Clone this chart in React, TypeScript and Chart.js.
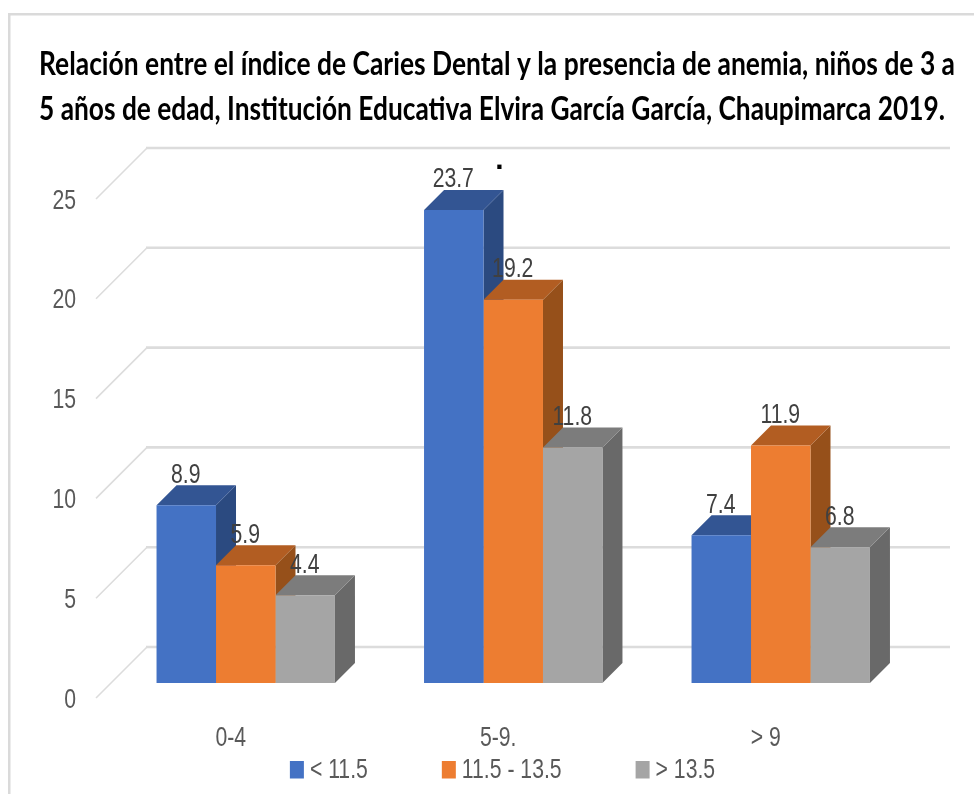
import React, { useEffect, useRef } from "react";
import { Chart, registerables } from "chart.js";

Chart.register(...registerables);

const categories = ["0-4", "5-9.", "> 9"];
const seriesNames = ["< 11.5", "11.5 - 13.5", "> 13.5"];
const lowHb = [8.9, 23.7, 7.4];
const midHb = [5.9, 19.2, 11.9];
const highHb = [4.4, 11.8, 6.8];
const yTicks = [0, 5, 10, 15, 20, 25];
const titleLines = [
  "Relación entre el índice de Caries Dental y la presencia de anemia, niños de 3 a",
  "5 años de edad, Institución Educativa Elvira García García, Chaupimarca 2019.",
];
const frontColors = ["#4472C4", "#ED7D31", "#A5A5A5"];
const topColors = ["#335593", "#B25D22", "#7C7C7C"];
const sideColors = ["#2B4A80", "#96501A", "#696969"];

const SANS = '"Liberation Sans", sans-serif';
const TEXT = "#595959";
const GRID = "#DCDCDC";
const BAR_DEPTH = 20;
const WALL_DX = 51;
const AXIS_DROP = 15;
const SQUEEZE = 0.785;

function squeezed(ctx: any, text: string, x: number, y: number, align: "left" | "right" | "center") {
  ctx.save();
  ctx.translate(x, y);
  ctx.scale(SQUEEZE, 1);
  ctx.textAlign = align;
  ctx.textBaseline = "alphabetic";
  ctx.fillText(text, 0, 0);
  ctx.restore();
}

const scene = {
  id: "scene",
  beforeDatasetsDraw(chart: any) {
    const { ctx } = chart;
    const y = chart.scales.y;
    ctx.save();
    // frame
    ctx.fillStyle = "#DADADA";
    ctx.fillRect(8, 13, 966, 2.5);
    ctx.fillRect(8, 13, 2.5, 781);
    // walls
    ctx.strokeStyle = GRID;
    for (const v of yTicks) {
      const py = y.getPixelForValue(v) + AXIS_DROP;
      ctx.lineWidth = 1.6;
      ctx.beginPath();
      ctx.moveTo(96, py);
      ctx.lineTo(96 + WALL_DX, py - WALL_DX);
      ctx.stroke();
      ctx.lineWidth = 2.6;
      ctx.beginPath();
      ctx.moveTo(96 + WALL_DX - 1, py - WALL_DX);
      ctx.lineTo(950, py - WALL_DX);
      ctx.stroke();
    }
    // 3D faces of each bar, left to right
    const d = BAR_DEPTH;
    categories.forEach((_, i) => {
      chart.data.datasets.forEach((_ds: any, s: number) => {
        const b = chart.getDatasetMeta(s).data[i];
        const half = b.width / 2;
        const l = b.x - half;
        const r = b.x + half;
        const t = b.y;
        const base = b.base;
        ctx.fillStyle = sideColors[s];
        ctx.beginPath();
        ctx.moveTo(r, t);
        ctx.lineTo(r + d, t - d);
        ctx.lineTo(r + d, base - d);
        ctx.lineTo(r, base);
        ctx.closePath();
        ctx.fill();
        ctx.fillStyle = topColors[s];
        ctx.beginPath();
        ctx.moveTo(l, t);
        ctx.lineTo(l + d, t - d);
        ctx.lineTo(r + d, t - d);
        ctx.lineTo(r, t);
        ctx.closePath();
        ctx.fill();
      });
    });
    ctx.restore();
  },
  afterDatasetsDraw(chart: any) {
    const { ctx } = chart;
    const xs = chart.scales.x;
    const ys = chart.scales.y;
    ctx.save();
    // title
    ctx.fillStyle = "#000000";
    ctx.textBaseline = "alphabetic";
    ctx.textAlign = "left";
    ctx.font = 'bold 33px Lato, "Liberation Sans", sans-serif';
    const fit = [
      { x: 39, base: 75, width: 916 },
      { x: 39, base: 120, width: 906 },
    ];
    titleLines.forEach((line, i) => {
      const w = ctx.measureText(line).width;
      ctx.save();
      ctx.translate(fit[i].x, fit[i].base);
      ctx.scale(fit[i].width / w, 1);
      ctx.fillText(line, 0, 0);
      ctx.restore();
    });
    // axis labels
    ctx.font = `27px ${SANS}`;
    ctx.fillStyle = TEXT;
    yTicks.forEach((v) => {
      squeezed(ctx, String(v), 76, ys.getPixelForValue(v) + AXIS_DROP + 9.5, "right");
    });
    categories.forEach((c, i) => {
      squeezed(ctx, c, xs.getPixelForTick(i) - 15, chart.chartArea.bottom + 63, "center");
    });
    // data labels
    ctx.fillStyle = "#404040";
    chart.data.datasets.forEach((ds: any, s: number) => {
      chart.getDatasetMeta(s).data.forEach((b: any, i: number) => {
        squeezed(ctx, ds.data[i].toFixed(1), b.x - 0.5, b.y - 22.5, "center");
      });
    });
    // stray dot in the source picture
    ctx.font = `bold 30px ${SANS}`;
    ctx.fillStyle = "#000000";
    ctx.textAlign = "center";
    ctx.fillText(".", 499.5, 168.5);
    // legend
    ctx.font = `27px ${SANS}`;
    const widths = seriesNames.map((n) => ctx.measureText(n).width * SQUEEZE);
    const total = widths.reduce((a, w) => a + 14 + 6 + w, 0) + 74 * 2;
    let x = 502.5 - total / 2;
    seriesNames.forEach((n, i) => {
      ctx.fillStyle = frontColors[i];
      ctx.fillRect(x, 761, 14, 17.5);
      ctx.fillStyle = TEXT;
      squeezed(ctx, n, x + 20, 778, "left");
      x += 14 + 6 + widths[i] + 74;
    });
    ctx.restore();
  },
};

export default function App() {
  const ref = useRef<HTMLCanvasElement>(null);
  useEffect(() => {
    document.body.style.margin = "0";
    const chart = new Chart(ref.current as HTMLCanvasElement, {
      type: "bar",
      data: {
        labels: categories,
        datasets: [lowHb, midHb, highHb].map((data, s) => ({
          label: seriesNames[s],
          data,
          backgroundColor: frontColors[s],
          borderWidth: 0,
          barPercentage: 1,
          categoryPercentage: 0.667,
        })),
      },
      options: {
        animation: false,
        responsive: false,
        layout: { padding: { top: 184, left: 0, right: 59.5, bottom: 0 } },
        plugins: { legend: { display: false }, title: { display: false }, tooltip: { enabled: false } },
        scales: {
          x: {
            grid: { display: false },
            border: { display: false },
            ticks: { display: false },
            afterFit: (s: any) => {
              s.height = 111;
            },
          },
          y: {
            min: 0,
            max: 25,
            grid: { display: false, drawTicks: false },
            border: { display: false },
            ticks: { display: false, stepSize: 5 },
            afterFit: (s: any) => {
              s.width = 112;
            },
          },
        },
      },
      plugins: [scene],
    });
    return () => chart.destroy();
  }, []);
  return (
    <canvas
      ref={ref}
      width={974}
      height={794}
      style={{ display: "block", width: 974, height: 794, filter: "blur(0.45px)" }}
    />
  );
}
